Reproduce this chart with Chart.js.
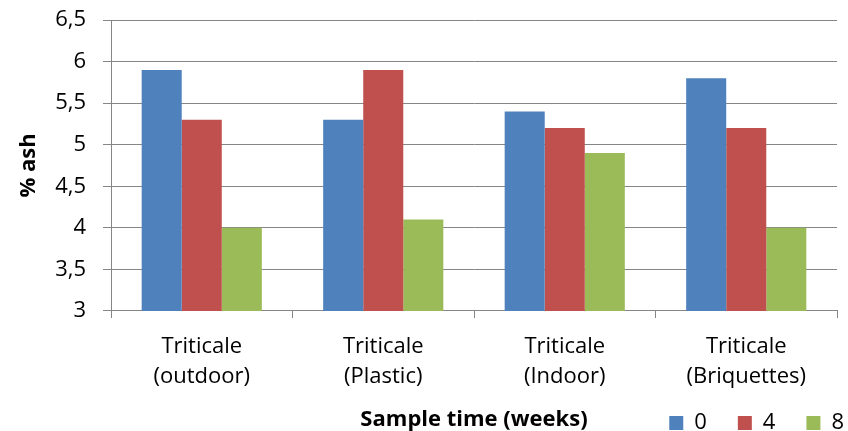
<!DOCTYPE html>
<html>
<head>
<meta charset="utf-8">
<script src="https://cdn.jsdelivr.net/npm/chart.js@4/dist/chart.umd.min.js"></script>
<style>
  body { margin: 0; background: #fff; }
  #wrap { width: 848px; height: 431px; }
</style>
</head>
<body>
<div id="wrap"><canvas id="ashChart"></canvas></div>
<script>
// Chart data
const categories = [
    ['Triticale', '(outdoor)'],
    ['Triticale', '(Plastic)'],
    ['Triticale', '(Indoor)'],
    ['Triticale', '(Briquettes)']
];
const seriesNames = ['0', '4', '8'];
const week0 = [5.9, 5.3, 5.4, 5.8];
const week4 = [5.3, 5.9, 5.2, 5.2];
const week8 = [4.0, 4.1, 4.9, 4.0];
const yMin = 3;
const yMax = 6.5;
const yStep = 0.5;

const colors = ['#4F81BD', '#C0504D', '#9BBB59'];
const gridColor = '#868686';
const fontFamily = "'Open Sans', sans-serif";
const yAxisWidth = 111;   // left margin up to the value axis
const legendShiftX = 38;  // push legend items towards the right edge
const legendShiftY = -20; // lift legend onto the axis title row

// Put the legend on the same row as the x axis title, right aligned
const legendNudge = {
    id: 'legendNudge',
    afterLayout(chart) {
        const lg = chart.legend;
        lg.left += legendShiftX;
        lg.right += legendShiftX;
        lg.top += legendShiftY;
        lg.bottom = chart.height;   // legend clips to its box, keep items visible
        lg.height = lg.bottom - lg.top;
    }
};

const ctx = document.getElementById('ashChart').getContext('2d');
const ashChart = new Chart(ctx, {
    type: 'bar',
    data: {
        labels: categories,
        datasets: [week0, week4, week8].map((values, i) => ({
            label: seriesNames[i],
            data: values,
            backgroundColor: colors[i],
            borderWidth: 0,
            categoryPercentage: 0.662,
            barPercentage: 1
        }))
    },
    options: {
        responsive: true,
        maintainAspectRatio: false,
        animation: false,
        layout: {
            padding: { top: 20, right: 11, bottom: 0, left: 0 }
        },
        plugins: {
            legend: {
                position: 'bottom',
                align: 'end',
                maxHeight: 30,
                labels: {
                    boxWidth: 14,
                    boxHeight: 14,
                    padding: 31,
                    color: '#000',
                    font: { family: fontFamily, size: 22 }
                }
            },
            tooltip: { enabled: false }
        },
        scales: {
            x: {
                grid: {
                    display: true,
                    drawOnChartArea: false,
                    drawTicks: true,
                    tickLength: 7,
                    color: gridColor
                },
                border: { display: true, color: gridColor, width: 1 },
                ticks: {
                    color: '#000',
                    padding: 14,
                    maxRotation: 0,
                    font: { family: fontFamily, size: 22, lineHeight: 1.364 }
                },
                title: {
                    display: true,
                    text: 'Sample time (weeks)',
                    color: '#000',
                    padding: { top: 0.3, bottom: -31.7 },
                    font: { family: fontFamily, size: 22, weight: 'bold' }
                }
            },
            y: {
                min: yMin,
                max: yMax,
                afterFit: scale => {
                    scale.width = yAxisWidth;
                    scale.paddingTop = 0;
                    scale.paddingBottom = 0;
                },
                grid: {
                    color: gridColor,
                    tickLength: 8
                },
                border: { display: true, color: gridColor, width: 1 },
                ticks: {
                    stepSize: yStep,
                    color: '#000',
                    padding: 17,
                    font: { family: fontFamily, size: 22 },
                    callback: value => String(value).replace('.', ',')
                },
                title: {
                    display: true,
                    text: '% ash',
                    color: '#000',
                    padding: { top: 16, bottom: 14 },
                    font: { family: fontFamily, size: 22, weight: 'bold' }
                }
            }
        }
    },
    plugins: [legendNudge]
});
</script>
</body>
</html>
